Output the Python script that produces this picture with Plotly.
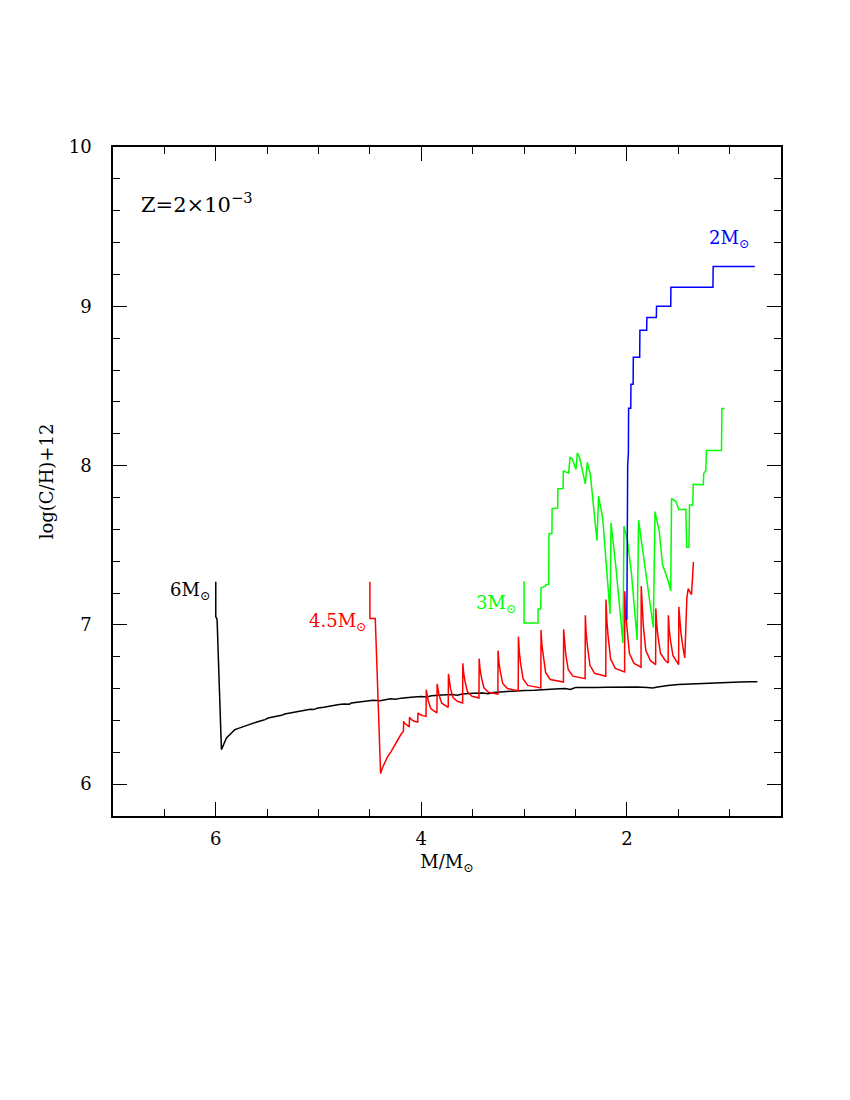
import plotly.graph_objects as go

# 6 Msun track
black_mass = [6.0, 6.0, 5.99, 5.987, 5.945, 5.92, 5.896, 5.85, 5.815, 5.78, 5.74, 5.70,
              5.653, 5.60, 5.55, 5.52, 5.491, 5.45, 5.40, 5.36, 5.329, 5.28, 5.22, 5.167,
              5.12, 5.08, 5.05, 5.005, 4.95, 4.90, 4.844, 4.80, 4.75, 4.70, 4.681, 4.62,
              4.56, 4.52, 4.47, 4.40, 4.358, 4.30, 4.25, 4.195, 4.10, 4.00, 3.95, 3.90,
              3.80, 3.70, 3.65, 3.60, 3.50, 3.40, 3.35, 3.30, 3.20, 3.10, 3.00, 2.90,
              2.80, 2.70, 2.60, 2.55, 2.50, 2.40, 2.30, 2.20, 2.10, 2.00, 1.90, 1.80,
              1.75, 1.70, 1.60, 1.50, 1.40, 1.30, 1.20, 1.10, 1.00, 0.90, 0.80, 0.73]
black_ch = [7.27, 7.05, 7.04, 7.03, 6.217, 6.25, 6.29, 6.32, 6.342, 6.35, 6.36, 6.37,
            6.378, 6.39, 6.40, 6.405, 6.415, 6.42, 6.43, 6.432, 6.44, 6.445, 6.452, 6.457,
            6.462, 6.47, 6.468, 6.478, 6.483, 6.49, 6.495, 6.50, 6.503, 6.502, 6.509, 6.514,
            6.518, 6.52, 6.526, 6.524, 6.531, 6.536, 6.533, 6.54, 6.545, 6.55, 6.547, 6.555,
            6.56, 6.562, 6.558, 6.566, 6.57, 6.572, 6.568, 6.576, 6.58, 6.585, 6.588, 6.59,
            6.595, 6.598, 6.60, 6.595, 6.606, 6.605, 6.607, 6.608, 6.609, 6.61, 6.61, 6.606,
            6.604, 6.61, 6.62, 6.625, 6.628, 6.633, 6.636, 6.638, 6.64, 6.642, 6.643, 6.643]

# 4.5 Msun track
red_mass = [4.50, 4.50, 4.448, 4.396, 4.38, 4.357, 4.33, 4.293, 4.26, 4.228, 4.20,
            4.174, 4.172, 4.164, 4.152, 4.13,
            4.117, 4.115, 4.107, 4.095, 4.07,
            4.035, 4.033, 4.025, 4.013, 3.988,
            3.954, 3.952, 3.944, 3.932, 3.907, 3.87,
            3.848, 3.846, 3.838, 3.826, 3.801, 3.76,
            3.738, 3.736, 3.728, 3.716, 3.691, 3.646,
            3.598, 3.596, 3.588, 3.576, 3.551, 3.506,
            3.439, 3.437, 3.429, 3.417, 3.392, 3.347,
            3.255, 3.253, 3.245, 3.233, 3.208, 3.163,
            3.057, 3.055, 3.047, 3.035, 3.01, 2.965,
            2.837, 2.835, 2.827, 2.815, 2.79, 2.745,
            2.617, 2.615, 2.607, 2.595, 2.57, 2.525,
            2.406, 2.404, 2.396, 2.384, 2.359, 2.314,
            2.205, 2.203, 2.195, 2.183, 2.158, 2.113,
            2.022, 2.02, 2.012, 2.0, 1.975, 1.93,
            1.862, 1.86, 1.852, 1.84, 1.815, 1.77,
            1.72, 1.718, 1.71, 1.698, 1.673, 1.628,
            1.598, 1.596, 1.588, 1.576, 1.551, 1.51,
            1.496, 1.494, 1.486, 1.474, 1.452,
            1.436, 1.416, 1.403, 1.385, 1.371, 1.352]
red_ch = [7.27, 7.04, 7.04, 6.066, 6.10, 6.133, 6.17, 6.206, 6.245, 6.279, 6.31,
          6.332, 6.394, 6.384, 6.377, 6.365,
          6.359, 6.42, 6.412, 6.405, 6.395,
          6.39, 6.447, 6.441, 6.437, 6.43,
          6.426, 6.593, 6.552, 6.52, 6.473, 6.454,
          6.447, 6.629, 6.588, 6.556, 6.508, 6.489,
          6.482, 6.692, 6.641, 6.601, 6.543, 6.519,
          6.51, 6.759, 6.698, 6.65, 6.58, 6.552,
          6.541, 6.788, 6.726, 6.677, 6.606, 6.577,
          6.566, 6.838, 6.768, 6.712, 6.632, 6.60,
          6.587, 6.926, 6.836, 6.765, 6.662, 6.62,
          6.604, 6.968, 6.876, 6.805, 6.70, 6.657,
          6.641, 6.972, 6.885, 6.817, 6.718, 6.678,
          6.662, 7.06, 6.953, 6.869, 6.746, 6.696,
          6.677, 7.159, 7.032, 6.932, 6.786, 6.727,
          6.704, 7.211, 7.077, 6.973, 6.82, 6.758,
          6.734, 7.243, 7.105, 6.997, 6.839, 6.775,
          6.75, 7.102, 7.007, 6.932, 6.822, 6.778,
          6.761, 7.06, 6.973, 6.905, 6.806, 6.765,
          6.75, 7.113, 7.023, 6.953, 6.85,
          6.792, 7.17, 7.228, 7.205, 7.19, 7.395]

# 3 Msun track
green_mass = [3.0, 3.0, 2.864, 2.864, 2.838, 2.835, 2.79, 2.786, 2.76, 2.758, 2.729, 2.727,
              2.673, 2.671, 2.62, 2.618, 2.566, 2.553, 2.53, 2.495, 2.482, 2.46, 2.404,
              2.384, 2.355, 2.291, 2.275, 2.235, 2.163, 2.154, 2.106, 2.038, 2.028, 1.993,
              1.954, 1.90, 1.886, 1.824, 1.742, 1.726, 1.685, 1.653, 1.60, 1.573, 1.565,
              1.523, 1.495, 1.426, 1.418, 1.396, 1.39, 1.358, 1.354, 1.256, 1.252, 1.231,
              1.226, 1.079, 1.075, 1.05]
green_ch = [7.274, 7.012, 7.012, 7.10, 7.10, 7.232, 7.245, 7.253, 7.253, 7.571, 7.575, 7.73,
            7.733, 7.854, 7.856, 7.965, 7.954, 8.053, 8.04, 7.975, 8.08, 8.05, 7.885,
            8.02, 7.944, 7.529, 7.808, 7.67, 7.069, 7.64, 7.36, 6.886, 7.62, 7.525,
            7.316, 6.905, 7.657, 7.358, 6.983, 7.711, 7.588, 7.379, 7.28, 7.213, 7.793,
            7.776, 7.724, 7.724, 7.487, 7.487, 7.753, 7.753, 7.883, 7.88, 7.95, 7.97,
            8.095, 8.095, 8.358, 8.358]

# 2 Msun track
blue_mass = [2.0, 1.998, 1.995, 1.992, 1.985, 1.983, 1.962, 1.960, 1.939, 1.937, 1.875,
             1.873, 1.807, 1.805, 1.713, 1.711, 1.573, 1.571, 1.162, 1.160, 0.755]
blue_ch = [7.03, 7.40, 7.70, 8.00, 8.08, 8.36, 8.36, 8.51, 8.51, 8.68, 8.68,
           8.85, 8.85, 8.93, 8.93, 9.00, 9.00, 9.12, 9.12, 9.25, 9.25]

FONT = "DejaVu Serif"
SUN = "M<sub>⊙</sub>"

fig = go.Figure()
for xs, ys, color in [
    (black_mass, black_ch, "#000000"),
    (green_mass, green_ch, "#00ff00"),
    (red_mass, red_ch, "#ff0000"),
    (blue_mass, blue_ch, "#0000ff"),
]:
    fig.add_trace(
        go.Scatter(x=xs, y=ys, mode="lines", line=dict(color=color, width=1.5),
                   showlegend=False, hoverinfo="skip")
    )

labels = [
    ("6" + SUN, 6.04, 7.21, "#000000", "right", 18),
    ("4.5" + SUN, 4.51, 7.02, "#ff0000", "right", 18),
    ("3" + SUN, 3.06, 7.13, "#00ff00", "right", 18),
    ("2" + SUN, 0.79, 9.42, "#0000ff", "right", 18),
    ("Z=2×10<sup>−3</sup>", 6.75, 9.65, "#000000", "left", 21),
]
for text, x, y, color, anchor, size in labels:
    fig.add_annotation(x=x, y=y, text=text, showarrow=False, xanchor=anchor,
                       yanchor="middle", font=dict(family=FONT, size=size, color=color))

fig.update_layout(
    width=850,
    height=1100,
    margin=dict(l=105, r=77, t=139, b=292),
    plot_bgcolor="white",
    paper_bgcolor="white",
    font=dict(family=FONT, size=18, color="black"),
)
fig.update_xaxes(
    range=[7, 0.5], showgrid=False, zeroline=False, showline=True, linecolor="black",
    linewidth=1.5, mirror="ticks", ticks="inside", ticklen=14, tickwidth=1.2,
    tickcolor="black", tick0=0, dtick=2, ticklabelstandoff=6,
    minor=dict(ticks="inside", ticklen=7, tickwidth=1.2, tickcolor="black", dtick=0.5),
    title=dict(text="M/" + SUN, standoff=7, font=dict(size=18)),
)
fig.update_yaxes(
    range=[5.8, 10], showgrid=False, zeroline=False, showline=True, linecolor="black",
    linewidth=1.5, mirror="ticks", ticks="inside", ticklen=14, tickwidth=1.2,
    tickcolor="black", tick0=0, dtick=1, ticklabelstandoff=16,
    minor=dict(ticks="inside", ticklen=7, tickwidth=1.2, tickcolor="black", dtick=0.2),
    title=dict(text="log(C/H)+12", standoff=10, font=dict(size=18)),
)

fig.write_html("out.html")
